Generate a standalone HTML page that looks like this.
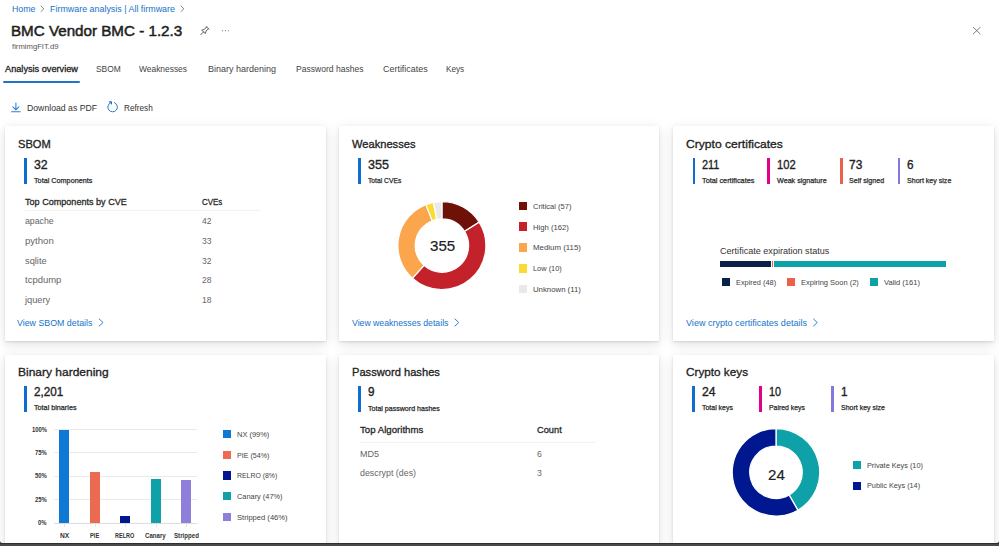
<!DOCTYPE html>
<html><head><meta charset="utf-8"><title>Firmware analysis</title>
<style>
html,body{margin:0;padding:0;}
body{width:999px;height:546px;overflow:hidden;background:linear-gradient(#2f2f2f 0,#2f2f2f 544.5px,#4a4a4a 544.5px);font-family:"Liberation Sans",sans-serif;position:relative;}
#page{position:absolute;left:0;top:0;width:999px;height:542.7px;background:#fff;border-radius:0 0 2.5px 2.5px;overflow:hidden;}
.t{position:absolute;white-space:pre;line-height:1;transform-origin:0 50%;}
.card{position:absolute;background:#fff;box-shadow:0 0.8px 2px rgba(0,0,0,.11),0 3.5px 10px rgba(0,0,0,.085),0 0 14px rgba(0,0,0,.04);}
</style></head><body><div id="page">
<div class="card" style="left:5px;top:126px;width:320.5px;height:215px"></div>
<div class="card" style="left:338.7px;top:126px;width:320.8px;height:215px"></div>
<div class="card" style="left:673px;top:126px;width:320.8px;height:215px"></div>
<div class="card" style="left:5px;top:354.5px;width:320.5px;height:200px"></div>
<div class="card" style="left:338.7px;top:354.5px;width:320.8px;height:200px"></div>
<div class="card" style="left:673px;top:354.5px;width:320.8px;height:200px"></div>
<div style="position:absolute;left:3px;top:81.1px;width:76.6px;height:1.7px;background:#1f76c9;border-radius:1px;"></div>
<div style="position:absolute;left:24.099999999999998px;top:158.0px;width:2.8px;height:26.3px;background:#0f6cd0;"></div>
<div style="position:absolute;left:357.9px;top:158.0px;width:2.8px;height:26.3px;background:#0f6cd0;"></div>
<div style="position:absolute;left:692.5px;top:157.8px;width:2.8px;height:26.3px;background:#0f6cd0;"></div>
<div style="position:absolute;left:767.4px;top:157.8px;width:2.8px;height:26.3px;background:#e3008c;"></div>
<div style="position:absolute;left:839.9px;top:157.8px;width:2.8px;height:26.3px;background:#ea6246;"></div>
<div style="position:absolute;left:897.6px;top:157.8px;width:2.8px;height:26.3px;background:#8378de;"></div>
<div style="position:absolute;left:24.099999999999998px;top:386.0px;width:2.8px;height:26.3px;background:#0f6cd0;"></div>
<div style="position:absolute;left:358.0px;top:385.8px;width:2.8px;height:26.3px;background:#0f6cd0;"></div>
<div style="position:absolute;left:692.1999999999999px;top:385.8px;width:2.8px;height:26.3px;background:#0f6cd0;"></div>
<div style="position:absolute;left:759.3px;top:385.8px;width:2.8px;height:26.3px;background:#e3008c;"></div>
<div style="position:absolute;left:830.9px;top:385.8px;width:2.8px;height:26.3px;background:#8378de;"></div>
<div style="position:absolute;left:25.1px;top:210.2px;width:235.6px;height:1px;background:#f2f2f2;"></div>
<div style="position:absolute;left:359.6px;top:441.8px;width:235.6px;height:1px;background:#f2f2f2;"></div>
<div style="position:absolute;left:518.5px;top:201.5px;width:8.5px;height:8.5px;background:#6e1208;"></div>
<div style="position:absolute;left:518.5px;top:222.4px;width:8.5px;height:8.5px;background:#c4222a;"></div>
<div style="position:absolute;left:518.5px;top:243.2px;width:8.5px;height:8.5px;background:#fba54c;"></div>
<div style="position:absolute;left:518.5px;top:264px;width:8.5px;height:8.5px;background:#fadb33;"></div>
<div style="position:absolute;left:518.5px;top:284.8px;width:8.5px;height:8.5px;background:#e9e9e9;"></div>
<div style="position:absolute;left:719.5px;top:260.6px;width:51px;height:6.2px;background:#0b1f4b;"></div>
<div style="position:absolute;left:771.5px;top:260.6px;width:1.4px;height:6.2px;background:#ea6246;"></div>
<div style="position:absolute;left:773.9px;top:260.6px;width:172.6px;height:6.2px;background:#0ea2a8;"></div>
<div style="position:absolute;left:722.1px;top:278.4px;width:8px;height:8px;background:#0b1f4b;"></div>
<div style="position:absolute;left:786.7px;top:278.4px;width:8px;height:8px;background:#ea6246;"></div>
<div style="position:absolute;left:869.7px;top:278.4px;width:8px;height:8px;background:#0ea2a8;"></div>
<div style="position:absolute;left:54px;top:428.7px;width:143.3px;height:1px;background:#eaeaea;"></div>
<div style="position:absolute;left:54px;top:452.2px;width:143.3px;height:1px;background:#eaeaea;"></div>
<div style="position:absolute;left:54px;top:475.7px;width:143.3px;height:1px;background:#eaeaea;"></div>
<div style="position:absolute;left:54px;top:499.2px;width:143.3px;height:1px;background:#eaeaea;"></div>
<div style="position:absolute;left:54px;top:522.8px;width:143.3px;height:1px;background:#dcdcdc;"></div>
<div style="position:absolute;left:59.2px;top:430.139px;width:10.1px;height:92.961px;background:#0f78d4;"></div>
<div style="position:absolute;left:64.0px;top:523.8px;width:0.8px;height:3px;background:#e2e2e2;"></div>
<div style="position:absolute;left:89.7px;top:472.394px;width:10.1px;height:50.706px;background:#ec6a52;"></div>
<div style="position:absolute;left:94.5px;top:523.8px;width:0.8px;height:3px;background:#e2e2e2;"></div>
<div style="position:absolute;left:120px;top:515.588px;width:10.1px;height:7.5120000000000005px;background:#00188f;"></div>
<div style="position:absolute;left:124.8px;top:523.8px;width:0.8px;height:3px;background:#e2e2e2;"></div>
<div style="position:absolute;left:150.8px;top:478.96700000000004px;width:10.1px;height:44.133px;background:#0ea2a8;"></div>
<div style="position:absolute;left:155.60000000000002px;top:523.8px;width:0.8px;height:3px;background:#e2e2e2;"></div>
<div style="position:absolute;left:181.1px;top:479.906px;width:10.1px;height:43.194px;background:#8f7fdb;"></div>
<div style="position:absolute;left:185.9px;top:523.8px;width:0.8px;height:3px;background:#e2e2e2;"></div>
<div style="position:absolute;left:223.3px;top:429.9px;width:8.2px;height:8.2px;background:#0f78d4;"></div>
<div style="position:absolute;left:223.3px;top:450.6px;width:8.2px;height:8.2px;background:#ec6a52;"></div>
<div style="position:absolute;left:223.3px;top:471.4px;width:8.2px;height:8.2px;background:#00188f;"></div>
<div style="position:absolute;left:223.3px;top:492.2px;width:8.2px;height:8.2px;background:#0ea2a8;"></div>
<div style="position:absolute;left:223.3px;top:513px;width:8.2px;height:8.2px;background:#8f7fdb;"></div>
<div style="position:absolute;left:852.7px;top:461.1px;width:8.4px;height:8.4px;background:#0ea2a8;"></div>
<div style="position:absolute;left:852.7px;top:481.7px;width:8.4px;height:8.4px;background:#00188f;"></div>
<svg style="position:absolute;left:0;top:0" width="999" height="546" viewBox="0 0 999 546"><path d="M441.90 201.60A44 44 0 0 1 479.13 222.16L464.49 231.37A26.7 26.7 0 0 0 441.90 218.90Z" fill="#6e1208" stroke="#fff" stroke-width="1.2"/><path d="M479.13 222.16A44 44 0 0 1 412.41 278.25L424.00 265.42A26.7 26.7 0 0 0 464.49 231.37Z" fill="#c4222a" stroke="#fff" stroke-width="1.2"/><path d="M412.41 278.25A44 44 0 0 1 425.92 204.60L432.20 220.72A26.7 26.7 0 0 0 424.00 265.42Z" fill="#fba54c" stroke="#fff" stroke-width="1.2"/><path d="M425.92 204.60A44 44 0 0 1 433.39 202.43L436.73 219.40A26.7 26.7 0 0 0 432.20 220.72Z" fill="#fadb33" stroke="#fff" stroke-width="1.2"/><path d="M433.39 202.43A44 44 0 0 1 441.90 201.60L441.90 218.90A26.7 26.7 0 0 0 436.73 219.40Z" fill="#e9e9e9" stroke="#fff" stroke-width="1.2"/><path d="M776.00 428.50A43.8 43.8 0 0 1 797.90 510.23L789.10 494.99A26.2 26.2 0 0 0 776.00 446.10Z" fill="#0ea2a8" stroke="#fff" stroke-width="1.3"/><path d="M797.90 510.23A43.8 43.8 0 1 1 776.00 428.50L776.00 446.10A26.2 26.2 0 1 0 789.10 494.99Z" fill="#00188f" stroke="#fff" stroke-width="1.3"/><path d="M41 6L43.9 8.75L41 11.5" fill="none" stroke="#707070" stroke-width="0.85" stroke-linecap="round" stroke-linejoin="round"/><path d="M181 6L183.9 8.75L181 11.5" fill="none" stroke="#707070" stroke-width="0.85" stroke-linecap="round" stroke-linejoin="round"/><path d="M99.2 319L103.0 322.5L99.2 326" fill="none" stroke="#1573c9" stroke-width="0.9" stroke-linecap="round" stroke-linejoin="round"/><path d="M455 319L458.8 322.5L455 326" fill="none" stroke="#1573c9" stroke-width="0.9" stroke-linecap="round" stroke-linejoin="round"/><path d="M813.5 319L817.3 322.5L813.5 326" fill="none" stroke="#1573c9" stroke-width="0.9" stroke-linecap="round" stroke-linejoin="round"/><g fill="none" stroke="#4d4d4d" stroke-width="0.9" stroke-linejoin="round" stroke-linecap="round"><path d="M206.2 26.5L208.9 29.2M206.6 26.9L204.5 29.3L201.8 30.2L205.2 33.6L206.1 30.9L208.5 28.8"/><path d="M203.4 32L200.7 34.7"/></g><g fill="#858585"><circle cx="222.4" cy="30.7" r="0.6"/><circle cx="225.4" cy="30.7" r="0.6"/><circle cx="228.4" cy="30.7" r="0.6"/></g><path d="M973 27.1L980.4 34.1M980.4 27.1L973 34.1" stroke="#5f5f5f" stroke-width="0.8" fill="none"/><g fill="none" stroke="#2b80d2" stroke-width="1.05" stroke-linecap="round" stroke-linejoin="round"><path d="M15.9 102.9V109.6M12.9 106.8L15.9 109.8L18.9 106.8M11.6 111.7H20.2"/></g><g fill="none" stroke="#1a72c6" stroke-width="0.95" stroke-linecap="round" stroke-linejoin="round"><path d="M114.40 102.55A4.8 4.8 0 1 1 110.80 102.55"/><path d="M109.3 101.8H111.5V104" fill="#1a72c6"/></g></svg>
<span class="t" style="left:11.50px;top:5.00px;font-size:9px;font-weight:400;color:#1573c9;transform:scaleX(0.9785);">Home</span>
<span class="t" style="left:50.00px;top:5.00px;font-size:9px;font-weight:400;color:#1573c9;transform:scaleX(0.9891);">Firmware analysis | All firmware</span>
<span class="t" style="left:11.30px;top:24.00px;font-size:14.3px;font-weight:400;color:#1f1f1f;transform:scaleX(1.0613);-webkit-text-stroke:0.5px #1f1f1f;">BMC Vendor BMC - 1.2.3</span>
<span class="t" style="left:11.50px;top:43.00px;font-size:7.4px;font-weight:400;color:#555;transform:scaleX(1.0387);">firmimgFIT.d9</span>
<span class="t" style="left:5.00px;top:65.00px;font-size:9px;font-weight:400;color:#222;transform:scaleX(1.0205);-webkit-text-stroke:0.3px #222;">Analysis overview</span>
<span class="t" style="left:96.30px;top:65.00px;font-size:9px;font-weight:400;color:#444;transform:scaleX(0.9315);">SBOM</span>
<span class="t" style="left:139.00px;top:65.00px;font-size:9px;font-weight:400;color:#444;transform:scaleX(0.9346);">Weaknesses</span>
<span class="t" style="left:207.50px;top:65.00px;font-size:9px;font-weight:400;color:#444;transform:scaleX(0.9993);">Binary hardening</span>
<span class="t" style="left:296.30px;top:65.00px;font-size:9px;font-weight:400;color:#444;transform:scaleX(0.9501);">Password hashes</span>
<span class="t" style="left:383.30px;top:65.00px;font-size:9px;font-weight:400;color:#444;transform:scaleX(0.9930);">Certificates</span>
<span class="t" style="left:446.30px;top:65.00px;font-size:9px;font-weight:400;color:#444;transform:scaleX(0.9093);">Keys</span>
<span class="t" style="left:26.90px;top:104.00px;font-size:9px;font-weight:400;color:#333;transform:scaleX(0.9663);">Download as PDF</span>
<span class="t" style="left:123.80px;top:104.00px;font-size:9px;font-weight:400;color:#333;transform:scaleX(0.9107);">Refresh</span>
<span class="t" style="left:17.70px;top:139.00px;font-size:11.8px;font-weight:400;color:#222;transform:scaleX(0.9410);-webkit-text-stroke:0.32px #222;">SBOM</span>
<span class="t" style="left:33.60px;top:159.00px;font-size:12.6px;font-weight:400;color:#222;transform:scaleX(0.9775);-webkit-text-stroke:0.35px #222;">32</span>
<span class="t" style="left:33.60px;top:177.00px;font-size:7.3px;font-weight:400;color:#2a2a2a;transform:scaleX(0.9927);-webkit-text-stroke:0.25px #2a2a2a;">Total Components</span>
<span class="t" style="left:25.10px;top:198.00px;font-size:9.3px;font-weight:400;color:#2a2a2a;transform:scaleX(0.9752);-webkit-text-stroke:0.3px #2a2a2a;">Top Components by CVE</span>
<span class="t" style="left:202.40px;top:198.00px;font-size:9.3px;font-weight:400;color:#2a2a2a;transform:scaleX(0.8500);-webkit-text-stroke:0.3px #2a2a2a;">CVEs</span>
<span class="t" style="left:25.10px;top:216.00px;font-size:9.4px;font-weight:400;color:#666;transform:scaleX(0.9329);">apache</span>
<span class="t" style="left:202.40px;top:216.00px;font-size:9.4px;font-weight:400;color:#666;transform:scaleX(0.9102);">42</span>
<span class="t" style="left:25.10px;top:236.00px;font-size:9.4px;font-weight:400;color:#666;transform:scaleX(1.0193);">python</span>
<span class="t" style="left:202.40px;top:236.00px;font-size:9.4px;font-weight:400;color:#666;transform:scaleX(0.9102);">33</span>
<span class="t" style="left:25.10px;top:256.00px;font-size:9.4px;font-weight:400;color:#666;transform:scaleX(0.9867);">sqlite</span>
<span class="t" style="left:202.40px;top:256.00px;font-size:9.4px;font-weight:400;color:#666;transform:scaleX(0.9102);">32</span>
<span class="t" style="left:25.10px;top:275.00px;font-size:9.4px;font-weight:400;color:#666;transform:scaleX(1.0120);">tcpdump</span>
<span class="t" style="left:202.40px;top:275.00px;font-size:9.4px;font-weight:400;color:#666;transform:scaleX(0.9102);">28</span>
<span class="t" style="left:25.10px;top:295.00px;font-size:9.4px;font-weight:400;color:#666;transform:scaleX(0.9864);">jquery</span>
<span class="t" style="left:202.40px;top:295.00px;font-size:9.4px;font-weight:400;color:#666;transform:scaleX(0.9102);">18</span>
<span class="t" style="left:17.40px;top:319.00px;font-size:9px;font-weight:400;color:#1573c9;transform:scaleX(0.9808);">View SBOM details</span>
<span class="t" style="left:352.10px;top:139.00px;font-size:11.8px;font-weight:400;color:#222;transform:scaleX(0.9431);-webkit-text-stroke:0.32px #222;">Weaknesses</span>
<span class="t" style="left:367.60px;top:159.00px;font-size:12.6px;font-weight:400;color:#222;transform:scaleX(0.9993);-webkit-text-stroke:0.35px #222;">355</span>
<span class="t" style="left:367.60px;top:177.00px;font-size:7.3px;font-weight:400;color:#2a2a2a;transform:scaleX(0.9226);-webkit-text-stroke:0.25px #2a2a2a;">Total CVEs</span>
<span class="t" style="left:429.70px;top:239.00px;font-size:14.8px;font-weight:400;color:#222;transform:scaleX(1.0201);-webkit-text-stroke:0.2px #222;">355</span>
<span class="t" style="left:532.60px;top:203.00px;font-size:8px;font-weight:400;color:#444;transform:scaleX(0.9387);">Critical (57)</span>
<span class="t" style="left:532.60px;top:224.00px;font-size:8px;font-weight:400;color:#444;transform:scaleX(0.9583);">High (162)</span>
<span class="t" style="left:532.60px;top:244.00px;font-size:8px;font-weight:400;color:#444;transform:scaleX(0.9822);">Medium (115)</span>
<span class="t" style="left:532.60px;top:265.00px;font-size:8px;font-weight:400;color:#444;transform:scaleX(0.9253);">Low (10)</span>
<span class="t" style="left:532.60px;top:286.00px;font-size:8px;font-weight:400;color:#444;transform:scaleX(0.9732);">Unknown (11)</span>
<span class="t" style="left:352.00px;top:319.00px;font-size:9px;font-weight:400;color:#1573c9;transform:scaleX(0.9651);">View weaknesses details</span>
<span class="t" style="left:686.00px;top:139.00px;font-size:11.8px;font-weight:400;color:#222;transform:scaleX(1.0264);-webkit-text-stroke:0.32px #222;">Crypto certificates</span>
<span class="t" style="left:701.60px;top:159.00px;font-size:12.6px;font-weight:400;color:#222;transform:scaleX(0.8616);-webkit-text-stroke:0.35px #222;">211</span>
<span class="t" style="left:701.60px;top:177.00px;font-size:7.3px;font-weight:400;color:#2a2a2a;transform:scaleX(1.0014);-webkit-text-stroke:0.25px #2a2a2a;">Total certificates</span>
<span class="t" style="left:776.80px;top:159.00px;font-size:12.6px;font-weight:400;color:#222;transform:scaleX(0.8898);-webkit-text-stroke:0.35px #222;">102</span>
<span class="t" style="left:776.80px;top:177.00px;font-size:7.3px;font-weight:400;color:#2a2a2a;transform:scaleX(0.9826);-webkit-text-stroke:0.25px #2a2a2a;">Weak signature</span>
<span class="t" style="left:849.30px;top:159.00px;font-size:12.6px;font-weight:400;color:#222;transform:scaleX(0.9489);-webkit-text-stroke:0.35px #222;">73</span>
<span class="t" style="left:849.30px;top:177.00px;font-size:7.3px;font-weight:400;color:#2a2a2a;transform:scaleX(0.9720);-webkit-text-stroke:0.25px #2a2a2a;">Self signed</span>
<span class="t" style="left:907.30px;top:159.00px;font-size:12.6px;font-weight:400;color:#222;transform:scaleX(0.9300);-webkit-text-stroke:0.35px #222;">6</span>
<span class="t" style="left:907.10px;top:177.00px;font-size:7.3px;font-weight:400;color:#2a2a2a;transform:scaleX(0.9667);-webkit-text-stroke:0.25px #2a2a2a;">Short key size</span>
<span class="t" style="left:719.50px;top:247.00px;font-size:9px;font-weight:400;color:#333;transform:scaleX(1.0068);">Certificate expiration status</span>
<span class="t" style="left:735.90px;top:279.00px;font-size:8px;font-weight:400;color:#444;transform:scaleX(0.9202);">Expired (48)</span>
<span class="t" style="left:801.00px;top:279.00px;font-size:8px;font-weight:400;color:#444;transform:scaleX(0.9351);">Expiring Soon (2)</span>
<span class="t" style="left:883.50px;top:279.00px;font-size:8px;font-weight:400;color:#444;transform:scaleX(0.9424);">Valid (161)</span>
<span class="t" style="left:686.00px;top:319.00px;font-size:9px;font-weight:400;color:#1573c9;transform:scaleX(1.0051);">View crypto certificates details</span>
<span class="t" style="left:17.70px;top:367.00px;font-size:11.8px;font-weight:400;color:#222;transform:scaleX(1.0168);-webkit-text-stroke:0.32px #222;">Binary hardening</span>
<span class="t" style="left:33.60px;top:386.00px;font-size:12.6px;font-weight:400;color:#222;transform:scaleX(0.9265);-webkit-text-stroke:0.35px #222;">2,201</span>
<span class="t" style="left:33.60px;top:404.00px;font-size:7.3px;font-weight:400;color:#2a2a2a;transform:scaleX(0.9884);-webkit-text-stroke:0.25px #2a2a2a;">Total binaries</span>
<span class="t" style="left:31.95px;top:427.00px;font-size:6.4px;font-weight:700;color:#333;transform:scaleX(0.9200);">100%</span>
<span class="t" style="left:35.23px;top:450.00px;font-size:6.4px;font-weight:700;color:#333;transform:scaleX(0.9200);">75%</span>
<span class="t" style="left:35.23px;top:473.00px;font-size:6.4px;font-weight:700;color:#333;transform:scaleX(0.9200);">50%</span>
<span class="t" style="left:35.23px;top:497.00px;font-size:6.4px;font-weight:700;color:#333;transform:scaleX(0.9200);">25%</span>
<span class="t" style="left:38.49px;top:520.00px;font-size:6.4px;font-weight:700;color:#333;transform:scaleX(0.9200);">0%</span>
<span class="t" style="left:59.70px;top:533.00px;font-size:6.9px;font-weight:700;color:#333;transform:scaleX(0.9605);">NX</span>
<span class="t" style="left:89.90px;top:533.00px;font-size:6.9px;font-weight:700;color:#333;transform:scaleX(0.8281);">PIE</span>
<span class="t" style="left:115.30px;top:533.00px;font-size:6.9px;font-weight:700;color:#333;transform:scaleX(0.8000);">RELRO</span>
<span class="t" style="left:145.30px;top:533.00px;font-size:6.9px;font-weight:700;color:#333;transform:scaleX(0.8856);">Canary</span>
<span class="t" style="left:173.90px;top:533.00px;font-size:6.9px;font-weight:700;color:#333;transform:scaleX(0.8908);">Stripped</span>
<span class="t" style="left:236.70px;top:431.00px;font-size:8px;font-weight:400;color:#444;transform:scaleX(0.9312);">NX (99%)</span>
<span class="t" style="left:236.70px;top:452.00px;font-size:8px;font-weight:400;color:#444;transform:scaleX(0.8857);">PIE (54%)</span>
<span class="t" style="left:236.70px;top:472.00px;font-size:8px;font-weight:400;color:#444;transform:scaleX(0.8632);">RELRO (8%)</span>
<span class="t" style="left:236.70px;top:493.00px;font-size:8px;font-weight:400;color:#444;transform:scaleX(0.9218);">Canary (47%)</span>
<span class="t" style="left:236.70px;top:514.00px;font-size:8px;font-weight:400;color:#444;transform:scaleX(0.9483);">Stripped (46%)</span>
<span class="t" style="left:352.20px;top:367.00px;font-size:11.8px;font-weight:400;color:#222;transform:scaleX(0.9439);-webkit-text-stroke:0.32px #222;">Password hashes</span>
<span class="t" style="left:367.80px;top:386.00px;font-size:12.6px;font-weight:400;color:#222;transform:scaleX(0.9300);-webkit-text-stroke:0.35px #222;">9</span>
<span class="t" style="left:367.60px;top:405.00px;font-size:7.3px;font-weight:400;color:#2a2a2a;transform:scaleX(0.9672);-webkit-text-stroke:0.25px #2a2a2a;">Total password hashes</span>
<span class="t" style="left:359.60px;top:426.00px;font-size:9.3px;font-weight:400;color:#2a2a2a;transform:scaleX(1.0380);-webkit-text-stroke:0.3px #2a2a2a;">Top Algorithms</span>
<span class="t" style="left:536.60px;top:426.00px;font-size:9.3px;font-weight:400;color:#2a2a2a;transform:scaleX(0.9955);-webkit-text-stroke:0.3px #2a2a2a;">Count</span>
<span class="t" style="left:359.60px;top:449.00px;font-size:9.4px;font-weight:400;color:#666;transform:scaleX(0.9597);">MD5</span>
<span class="t" style="left:536.80px;top:449.00px;font-size:9.4px;font-weight:400;color:#666;transform:scaleX(0.9300);">6</span>
<span class="t" style="left:359.60px;top:468.00px;font-size:9.4px;font-weight:400;color:#666;transform:scaleX(0.9427);">descrypt (des)</span>
<span class="t" style="left:536.80px;top:468.00px;font-size:9.4px;font-weight:400;color:#666;transform:scaleX(0.9300);">3</span>
<span class="t" style="left:686.10px;top:367.00px;font-size:11.8px;font-weight:400;color:#222;transform:scaleX(0.9955);-webkit-text-stroke:0.32px #222;">Crypto keys</span>
<span class="t" style="left:702.00px;top:386.00px;font-size:12.6px;font-weight:400;color:#222;transform:scaleX(0.9703);-webkit-text-stroke:0.35px #222;">24</span>
<span class="t" style="left:702.00px;top:404.00px;font-size:7.3px;font-weight:400;color:#2a2a2a;transform:scaleX(0.9521);-webkit-text-stroke:0.25px #2a2a2a;">Total keys</span>
<span class="t" style="left:768.50px;top:386.00px;font-size:12.6px;font-weight:400;color:#222;transform:scaleX(0.8562);-webkit-text-stroke:0.35px #222;">10</span>
<span class="t" style="left:768.50px;top:404.00px;font-size:7.3px;font-weight:400;color:#2a2a2a;transform:scaleX(0.9443);-webkit-text-stroke:0.25px #2a2a2a;">Paired keys</span>
<span class="t" style="left:840.80px;top:386.00px;font-size:12.6px;font-weight:400;color:#222;transform:scaleX(0.9300);-webkit-text-stroke:0.35px #222;">1</span>
<span class="t" style="left:840.60px;top:404.00px;font-size:7.3px;font-weight:400;color:#2a2a2a;transform:scaleX(0.9579);-webkit-text-stroke:0.25px #2a2a2a;">Short key size</span>
<span class="t" style="left:768.00px;top:467.00px;font-size:15px;font-weight:400;color:#222;transform:scaleX(1.0067);-webkit-text-stroke:0.2px #222;">24</span>
<span class="t" style="left:866.80px;top:462.00px;font-size:8px;font-weight:400;color:#444;transform:scaleX(0.9110);">Private Keys (10)</span>
<span class="t" style="left:866.80px;top:482.00px;font-size:8px;font-weight:400;color:#444;transform:scaleX(0.9116);">Public Keys (14)</span>
</div></body></html>
